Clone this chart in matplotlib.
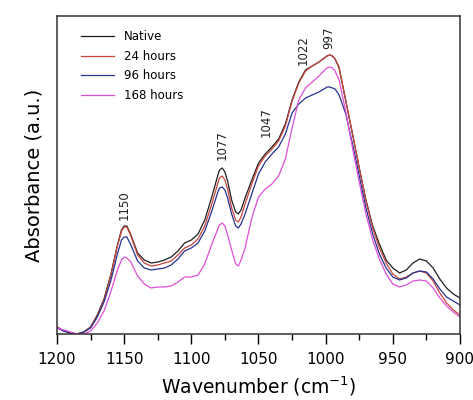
import numpy as np
import matplotlib
matplotlib.use("Agg")
import matplotlib.pyplot as plt
from matplotlib.ticker import MultipleLocator

# wavenumbers (cm-1) and absorbance (a.u.)
wavenumber = [1200, 1195, 1190, 1185, 1180, 1175, 1170, 1165, 1160, 1155,
              1152, 1150, 1148, 1145, 1140, 1135, 1130, 1125, 1120, 1115,
              1110, 1105, 1100, 1095, 1090, 1085, 1080, 1079, 1077, 1075,
              1073, 1070, 1067, 1065, 1063, 1060, 1055, 1050, 1045, 1040,
              1035, 1030, 1025, 1020, 1015, 1010, 1005, 1000, 999, 997,
              995, 993, 990, 985, 980, 975, 970, 965, 960, 955,
              950, 945, 940, 935, 930, 925, 920, 915, 910, 905,
              900]

native = [7, 3, 1, 0, 2, 7, 19, 35, 59, 89,
          104, 108, 108, 99, 81, 74, 71, 72, 74, 77,
          83, 91, 94, 100, 114, 136, 160, 164, 166, 162,
          153, 134, 122, 120, 124, 136, 154, 171, 180, 187,
          195, 210, 234, 252, 264, 268, 272, 277, 278, 279,
          278, 275, 266, 233, 200, 166, 134, 108, 90, 74,
          66, 61, 64, 71, 75, 73, 66, 55, 46, 40,
          36]

h24 = [7, 3, 1, 0, 2, 7, 18, 34, 58, 88,
       103, 107, 107, 98, 79, 71, 68, 69, 71, 73,
       79, 86, 89, 95, 108, 129, 152, 156, 158, 154,
       145, 126, 114, 112, 117, 130, 150, 168, 178, 185,
       193, 208, 233, 251, 263, 268, 272, 277, 278, 279,
       278, 275, 267, 233, 200, 166, 133, 106, 86, 71,
       60, 55, 57, 61, 63, 61, 53, 41, 31, 24,
       19]

h96 = [6, 3, 1, 0, 2, 6, 17, 32, 53, 80,
       94, 97, 97, 89, 73, 66, 64, 65, 66, 69,
       75, 83, 86, 91, 103, 122, 143, 146, 147, 144,
       136, 120, 108, 106, 110, 120, 140, 160, 172, 180,
       187, 200, 221, 230, 236, 239, 242, 246, 247, 247,
       246, 245, 239, 220, 190, 158, 126, 100, 80, 66,
       57, 54, 56, 61, 63, 62, 55, 45, 37, 33,
       29]

h168 = [6, 4, 2, 0, 0, 3, 11, 23, 42, 64,
        74, 77, 76, 72, 58, 50, 46, 47, 47, 48,
        52, 57, 57, 59, 70, 89, 106, 109, 111, 108,
        99, 84, 70, 68, 74, 86, 116, 137, 145, 150,
        158, 175, 206, 234, 246, 252, 258, 265, 266, 267,
        266, 263, 254, 222, 186, 152, 120, 94, 75, 60,
        50, 47, 49, 53, 54, 53, 46, 36, 28, 22,
        17]

series_names = ["Native", "24 hours", "96 hours", "168 hours"]
series_colors = ["#1e1e1e", "#c8453c", "#26318f", "#de4fd8"]

peak_labels = ["1150", "1077", "1047", "1022", "997"]
peak_x = [1150, 1077, 1044, 1017, 998]
peak_y = [114, 174, 197, 269, 285]

fig = plt.figure(figsize=(4.73, 4.0), dpi=100)
ax = fig.add_axes([0.1205, 0.165, 0.852, 0.795])

for vals, name, col in zip([native, h24, h96, h168], series_names, series_colors):
    ax.plot(wavenumber, vals, color=col, lw=0.9, label=name,
            solid_joinstyle="round")

for txt, px, py in zip(peak_labels, peak_x, peak_y):
    ax.text(px, py, txt, rotation=90, ha="center", va="bottom",
            fontsize=8.5, color="#222222")

ax.set_xlim(1200, 900)
ax.set_ylim(0, 318)
ax.xaxis.set_major_locator(MultipleLocator(50))
ax.xaxis.set_minor_locator(MultipleLocator(25))
ax.tick_params(axis="x", which="major", direction="out", length=7, width=1,
               labelsize=11, pad=6, top=False)
ax.tick_params(axis="x", which="minor", direction="out", length=4, width=1, top=False)
ax.set_yticks([])
for sp in ax.spines.values():
    sp.set_color("#333333")
    sp.set_linewidth(1.1)

ax.set_xlabel("Wavenumber (cm$^{-1}$)", fontsize=13.5, labelpad=5)
ax.set_ylabel("Absorbance (a.u.)", fontsize=14, labelpad=10)

ax.legend(loc="upper left", bbox_to_anchor=(0.06, 0.955), frameon=False,
          fontsize=8.5, handlelength=2.8, handletextpad=0.8, labelspacing=0.55,
          borderaxespad=0, borderpad=0)

fig.savefig("out.png", dpi=100)
